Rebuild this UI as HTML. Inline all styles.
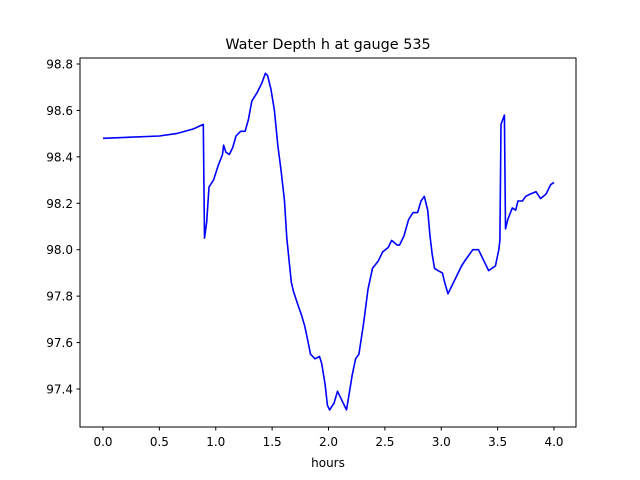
<!DOCTYPE html>
<html><head><meta charset="utf-8"><style>
body{margin:0;background:#fff;}
svg{display:block;font-family:"DejaVu Sans","Liberation Sans",sans-serif;}
</style></head><body>
<svg id="chart" width="640" height="480">
<rect width="640" height="480" fill="#fff"/>
<text x="328" y="49" font-size="14.4" text-anchor="middle">Water Depth h at gauge 535</text>
<g id="xticks"></g>
<g id="yticks"></g>
<text x="328" y="467" font-size="12" text-anchor="middle">hours</text>
<path id="line" fill="none" stroke="#0000ff" stroke-width="1.6" stroke-linejoin="round"/>
<rect x="80" y="58" width="496" height="369" fill="none" stroke="#000" stroke-width="1"/>
</svg>
<script>
const xTicks=[0,0.5,1.0,1.5,2.0,2.5,3.0,3.5,4.0];
const xTickLabels=["0.0","0.5","1.0","1.5","2.0","2.5","3.0","3.5","4.0"];
const yTicks=[97.4,97.6,97.8,98.0,98.2,98.4,98.6,98.8];
const yTickLabels=["97.4","97.6","97.8","98.0","98.2","98.4","98.6","98.8"];
const hours=[0,0.5,0.65,0.8,0.89,0.90,0.92,0.94,0.98,1.02,1.06,1.07,1.09,1.12,1.15,1.18,1.22,1.26,1.29,1.32,1.37,1.41,1.44,1.46,1.49,1.52,1.55,1.58,1.61,1.63,1.67,1.69,1.73,1.76,1.79,1.82,1.84,1.88,1.92,1.94,1.97,1.99,2.01,2.05,2.08,2.11,2.16,2.18,2.21,2.24,2.27,2.31,2.35,2.39,2.44,2.48,2.53,2.56,2.61,2.63,2.67,2.71,2.75,2.79,2.82,2.85,2.88,2.90,2.92,2.94,2.97,3.01,3.03,3.06,3.10,3.13,3.18,3.22,3.28,3.33,3.38,3.42,3.48,3.51,3.52,3.53,3.56,3.57,3.59,3.63,3.66,3.68,3.72,3.75,3.79,3.84,3.88,3.93,3.97,4.0];
const depth=[98.48,98.49,98.50,98.52,98.54,98.05,98.12,98.27,98.30,98.36,98.41,98.45,98.42,98.41,98.44,98.49,98.51,98.51,98.56,98.64,98.68,98.72,98.76,98.75,98.69,98.60,98.45,98.34,98.21,98.05,97.86,97.82,97.76,97.72,97.67,97.60,97.55,97.53,97.54,97.51,97.42,97.33,97.31,97.34,97.39,97.36,97.31,97.37,97.46,97.53,97.55,97.68,97.83,97.92,97.95,97.99,98.01,98.04,98.02,98.02,98.06,98.13,98.16,98.16,98.21,98.23,98.17,98.06,97.98,97.92,97.91,97.90,97.86,97.81,97.85,97.88,97.93,97.96,98.00,98.00,97.95,97.91,97.93,98.00,98.04,98.54,98.58,98.09,98.13,98.18,98.17,98.21,98.21,98.23,98.24,98.25,98.22,98.24,98.28,98.29];
const NS="http://www.w3.org/2000/svg";
const X=v=>103+(v-0)*112.75;
const Y=v=>64+(98.8-v)*232.14;
const xg=document.getElementById('xticks'), yg=document.getElementById('yticks');
xTicks.forEach((t,i)=>{
  const l=document.createElementNS(NS,'line');
  l.setAttribute('x1',X(t));l.setAttribute('x2',X(t));l.setAttribute('y1',427);l.setAttribute('y2',430.5);l.setAttribute('stroke','#000');
  
  
  xg.appendChild(l);
  const tx=document.createElementNS(NS,'text');
  tx.setAttribute('x',X(t));tx.setAttribute('y',446);tx.setAttribute('font-size','12');tx.setAttribute('text-anchor','middle');
  tx.textContent=xTickLabels[i];
  
  
  xg.appendChild(tx);
});
yTicks.forEach((t,i)=>{
  const l=document.createElementNS(NS,'line');
  l.setAttribute('x1',76.5);l.setAttribute('x2',80);l.setAttribute('y1',Y(t));l.setAttribute('y2',Y(t));l.setAttribute('stroke','#000');
  
  
  yg.appendChild(l);
  const tx=document.createElementNS(NS,'text');
  tx.setAttribute('x',73);tx.setAttribute('y',Y(t)+4.5);tx.setAttribute('font-size','12');tx.setAttribute('text-anchor','end');
  tx.textContent=yTickLabels[i];
  
  
  yg.appendChild(tx);
});
document.getElementById('line').setAttribute('d',hours.map((h,i)=>(i?'L':'M')+X(h).toFixed(1)+','+Y(depth[i]).toFixed(1)).join(''));
</script>
</body></html>
